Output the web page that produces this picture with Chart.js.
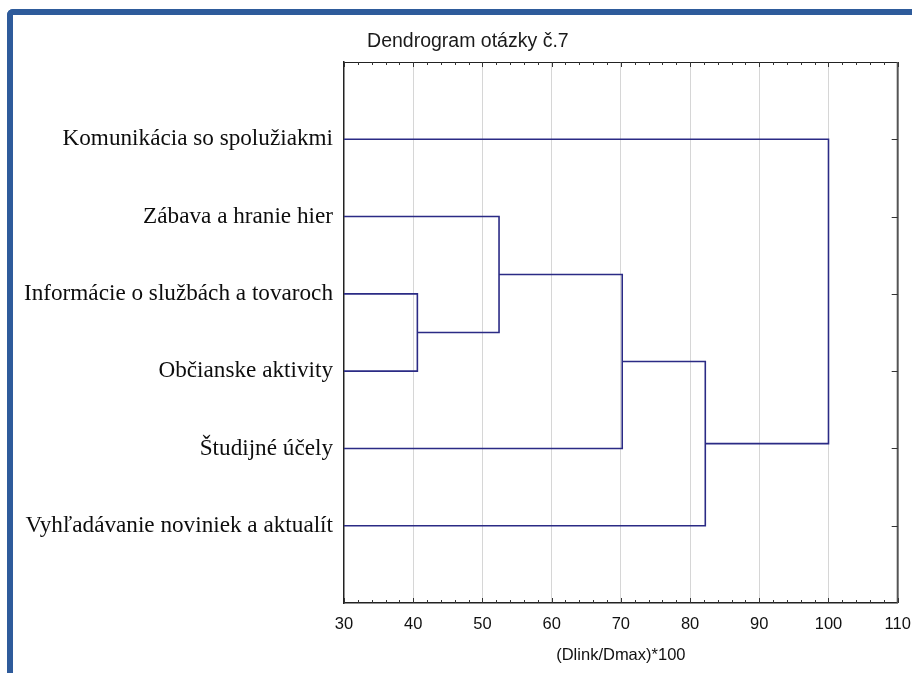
<!DOCTYPE html>
<html>
<head>
<meta charset="utf-8">
<script src="https://cdn.jsdelivr.net/npm/chart.js@4.4.1/dist/chart.umd.min.js"></script>
<style>
  html, body { margin: 0; padding: 0; background: #ffffff; width: 912px; height: 673px; overflow: hidden; }
  #frame { position: absolute; left: 7px; top: 9px; width: 940px; height: 700px;
           border-top: 6px solid #2e5b9b; border-left: 6px solid #2e5b9b;
           border-top-left-radius: 6px; box-sizing: border-box; }
  #c { position: absolute; left: 0; top: 0; z-index: 2; }
</style>
</head>
<body>
<div id="frame"></div>
<canvas id="c" width="912" height="673"></canvas>
<script>
// ---- data ----
const leafLabels = [
  'Komunikácia so spolužiakmi',
  'Zábava a hranie hier',
  'Informácie o službách a tovaroch',
  'Občianske aktivity',
  'Študijné účely',
  'Vyhľadávanie noviniek a aktualít'
];
// merges: node ids 0..5 are leaves, merge k creates node 6+k
const mergeLeft   = [2, 1, 7, 8, 0];
const mergeRight  = [3, 6, 4, 5, 9];
const mergeHeight = [40.6, 52.4, 70.2, 82.2, 100.0];
const xMin = 30, xMax = 110, xStep = 10;
const chartTitle = 'Dendrogram otázky č.7';
const xTitle = '(Dlink/Dmax)*100';

// ---- build dendrogram node positions ----
const nodeY = leafLabels.map((_, i) => i + 1);
const nodeH = leafLabels.map(() => xMin);
const datasets = [];
mergeHeight.forEach((h, k) => {
  const l = mergeLeft[k], r = mergeRight[k];
  datasets.push({
    data: [
      { x: nodeH[l], y: nodeY[l] },
      { x: h, y: nodeY[l] },
      { x: h, y: nodeY[r] },
      { x: nodeH[r], y: nodeY[r] }
    ],
    showLine: true,
    borderColor: '#2b2b85',
    borderWidth: 1.6,
    pointRadius: 0,
    tension: 0,
    fill: false
  });
  nodeY.push((nodeY[l] + nodeY[r]) / 2);
  nodeH.push(h);
});

const framePlugin = {
  id: 'frame',
  afterLayout(chart) {
    // let the long category labels extend to the left edge without clipping
    chart.scales.y.left = 0;
  },
  afterDraw(chart) {
    const { ctx, chartArea: a, scales } = chart;
    const x = scales.x, y = scales.y;
    ctx.save();
    ctx.strokeStyle = '#222';
    ctx.lineWidth = 1;
    ctx.beginPath();
    ctx.moveTo(a.left, a.top + 0.5); ctx.lineTo(a.right, a.top + 0.5);
    ctx.stroke();
    ctx.strokeStyle = '#555';
    ctx.lineWidth = 2;
    ctx.beginPath();
    ctx.moveTo(a.right, a.top); ctx.lineTo(a.right, a.bottom);
    ctx.stroke();
    ctx.strokeStyle = '#333';
    ctx.lineWidth = 1;
    ctx.beginPath();
    for (let v = xMin; v <= xMax; v += 2) {
      const px = Math.round(x.getPixelForValue(v)) + 0.5;
      const len = (v % xStep === 0) ? 5 : 3;
      ctx.moveTo(px, a.top); ctx.lineTo(px, a.top + len);
      ctx.moveTo(px, a.bottom); ctx.lineTo(px, a.bottom - len);
    }
    for (let i = 1; i <= leafLabels.length; i++) {
      const py = Math.round(y.getPixelForValue(i)) + 0.5;
      ctx.moveTo(a.right - 6, py); ctx.lineTo(a.right, py);
    }
    ctx.stroke();
    ctx.restore();
  }
};

new Chart(document.getElementById('c'), {
  type: 'scatter',
  data: { datasets },
  options: {
    responsive: false,
    animation: false,
    layout: { padding: { left: 38, right: 14.3, top: 0, bottom: 0 } },
    plugins: {
      legend: { display: false },
      tooltip: { enabled: false },
      title: {
        display: true,
        text: chartTitle,
        color: '#1a1a1a',
        font: { family: 'Liberation Sans', size: 19.5, weight: 'normal' },
        padding: { top: 30, bottom: 8.6 }
      }
    },
    scales: {
      x: {
        type: 'linear',
        position: 'bottom',
        min: xMin, max: xMax,
        ticks: {
          stepSize: xStep,
          color: '#111',
          padding: 11.5,
          font: { family: 'Liberation Sans', size: 16.5 }
        },
        grid: {
          drawTicks: false,
          lineWidth: 1,
          color: (c) => (c.tick && (c.tick.value === xMin || c.tick.value === xMax)) ? 'rgba(0,0,0,0)' : '#d6d6d6'
        },
        border: { display: true, color: '#222', width: 1.5 },
        title: {
          display: true,
          text: xTitle,
          color: '#111',
          font: { family: 'Liberation Sans', size: 16.5 },
          padding: { top: 0, bottom: 8 }
        },
        afterFit: (s) => { s.height = 70; s.paddingLeft = 0; s.paddingRight = 0; }
      },
      y: {
        type: 'linear',
        reverse: true,
        min: 0, max: leafLabels.length + 1,
        ticks: {
          stepSize: 1,
          color: '#0d0d0d',
          padding: 11,
          font: { family: 'Liberation Serif', size: 23.2 },
          callback: (v) => leafLabels[v - 1] || ''
        },
        grid: { drawOnChartArea: false, drawTicks: false },
        border: { display: true, color: '#222', width: 1.5 },
        afterFit: (s) => { s.width = 306; s.paddingTop = 0; s.paddingBottom = 0; }
      }
    }
  },
  plugins: [framePlugin]
});
</script>
</body>
</html>
